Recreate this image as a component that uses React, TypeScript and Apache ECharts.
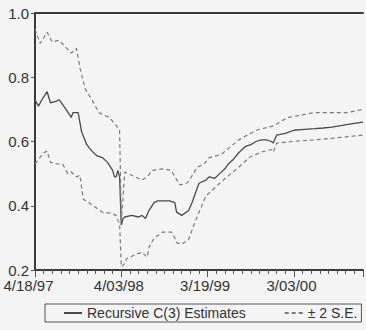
import React, { useEffect, useRef } from "react";
import * as echarts from "echarts";

// week index (0 = 4/18/97), value
const estimateWeeks = [0, 2, 4, 7, 9, 12, 14, 16, 18, 21, 22, 25, 27, 30, 33, 36, 39, 42, 45, 46, 47, 48, 49, 50, 51, 52, 56, 60, 62, 64, 66, 69, 71, 75, 78, 81, 82, 85, 89, 91, 94, 95, 99, 101, 104, 107, 110, 112, 115, 118, 122, 125, 128, 131, 134, 137, 138, 140, 145, 150, 156, 162, 167, 172, 178, 183, 190];
const estimateValues = [0.73, 0.71, 0.73, 0.755, 0.72, 0.725, 0.73, 0.715, 0.70, 0.675, 0.69, 0.69, 0.63, 0.59, 0.57, 0.555, 0.55, 0.535, 0.51, 0.49, 0.49, 0.51, 0.49, 0.34, 0.36, 0.365, 0.37, 0.365, 0.37, 0.36, 0.385, 0.41, 0.415, 0.415, 0.415, 0.41, 0.38, 0.37, 0.385, 0.41, 0.455, 0.47, 0.48, 0.49, 0.485, 0.50, 0.515, 0.53, 0.545, 0.565, 0.585, 0.59, 0.60, 0.605, 0.605, 0.60, 0.595, 0.62, 0.625, 0.635, 0.638, 0.64, 0.642, 0.645, 0.65, 0.655, 0.66];

const upperWeeks = [0, 3, 7, 10, 14, 21, 24, 26, 29, 33, 37, 43, 47, 49, 50, 52, 56, 62, 65, 68, 74, 79, 81, 84, 88, 90, 94, 98, 101, 108, 118, 128, 139, 143, 147, 152, 162, 172, 181, 190];
const upperValues = [0.95, 0.905, 0.94, 0.91, 0.915, 0.875, 0.89, 0.83, 0.765, 0.73, 0.69, 0.675, 0.65, 0.635, 0.35, 0.505, 0.495, 0.48, 0.49, 0.51, 0.515, 0.51, 0.49, 0.465, 0.47, 0.485, 0.52, 0.53, 0.55, 0.56, 0.605, 0.635, 0.65, 0.665, 0.675, 0.68, 0.69, 0.69, 0.69, 0.70];

const lowerWeeks = [0, 5, 7, 9, 13, 16, 19, 21, 24, 26, 28, 31, 35, 39, 44, 47, 48, 49, 50, 52, 53, 59, 62, 65, 66, 69, 74, 79, 81, 82, 85, 89, 92, 95, 99, 101, 108, 118, 124, 131, 137, 138, 140, 149, 162, 172, 181, 190];
const lowerValues = [0.53, 0.565, 0.57, 0.535, 0.53, 0.53, 0.50, 0.505, 0.49, 0.495, 0.42, 0.41, 0.395, 0.38, 0.377, 0.37, 0.355, 0.345, 0.21, 0.22, 0.235, 0.25, 0.255, 0.24, 0.27, 0.30, 0.318, 0.318, 0.30, 0.285, 0.28, 0.295, 0.34, 0.38, 0.43, 0.44, 0.475, 0.52, 0.55, 0.567, 0.575, 0.567, 0.595, 0.60, 0.605, 0.61, 0.615, 0.62];

const xTickLabels = ["4/18/97", "4/03/98", "3/19/99", "3/03/00"];
const yTicks = [0.2, 0.4, 0.6, 0.8, 1.0];

const seriesNames = ["Recursive C(3) Estimates", "\u00b1 2 S.E."];

const zip = (a: number[], b: number[]) => a.map((w, i) => [w, b[i]]);

export default function App() {
  const ref = useRef<HTMLDivElement>(null);
  useEffect(() => {
    if (!ref.current) return;
    const chart = echarts.init(ref.current, null, { renderer: "svg" });
    const font = "Liberation Sans, Arial, sans-serif";
    const axisColor = "#3c3c3c";
    chart.setOption({
      animation: false,
      backgroundColor: "#f4f4f4",
      grid: { left: 35, right: 0, top: 13, bottom: 60, containLabel: false },
      xAxis: [
        {
          type: "value",
          position: "bottom",
          min: 0,
          max: 190,
          interval: 5,
          axisLine: { show: true, onZero: false, lineStyle: { color: axisColor, width: 2 } },
          axisTick: { show: true, inside: false, length: 4, lineStyle: { color: "#555", width: 1 } },
          axisLabel: {
            show: true,
            margin: 8,
            fontFamily: font,
            fontSize: 15,
            color: "#333",
            formatter: (v: number) => {
              if (v % 50 !== 0 || v / 50 >= xTickLabels.length) return "";
              const t = xTickLabels[v / 50];
              return v === 0 ? "{first|" + t + "}" : "{rest|" + t + "}";
            },
            rich: {
              first: { fontFamily: font, fontSize: 15, color: "#333", padding: [0, 13, 0, 0] },
              rest: { fontFamily: font, fontSize: 15, color: "#333", padding: [0, 5, 0, 0] },
            },
          },
          splitLine: { show: false },
        },
        {
          type: "value",
          position: "bottom",
          min: 0,
          max: 190,
          interval: 50,
          axisLine: { show: false, onZero: false },
          axisTick: { show: true, inside: false, length: 7, lineStyle: { color: "#555", width: 1 } },
          axisLabel: { show: false },
          splitLine: { show: false },
        },
        {
          type: "value",
          position: "top",
          min: 0,
          max: 190,
          axisLine: { show: true, onZero: false, lineStyle: { color: axisColor, width: 2 } },
          axisTick: { show: false },
          axisLabel: { show: false },
          splitLine: { show: false },
        },
      ],
      yAxis: {
        type: "value",
        min: yTicks[0],
        max: yTicks[yTicks.length - 1],
        interval: 0.2,
        axisLine: { show: true, onZero: false, lineStyle: { color: axisColor, width: 2 } },
        axisTick: { show: true, inside: false, length: 4, lineStyle: { color: "#555" } },
        axisLabel: {
          fontFamily: font,
          fontSize: 15,
          color: "#333",
          margin: 6,
          formatter: (v: number) => v.toFixed(1),
        },
        splitLine: { show: false },
      },
      legend: {
        show: true,
        left: 45,
        top: 304,
        orient: "horizontal",
        data: seriesNames,
        borderColor: "#555",
        borderWidth: 1,
        padding: [2, 4, 2, 18],
        itemWidth: 18,
        itemHeight: 10,
        itemGap: 38,
        itemStyle: { color: "transparent", borderColor: "transparent", borderWidth: 0, opacity: 0 },
        textStyle: { fontFamily: font, fontSize: 14, color: "#333" },
      },
      series: [
        {
          name: seriesNames[0],
          type: "line",
          xAxisIndex: 0,
          data: zip(estimateWeeks, estimateValues),
          showSymbol: false,
          symbol: "none",
          lineStyle: { color: "#4a4a4a", width: 1.3 },
          itemStyle: { color: "#4a4a4a" },
        },
        {
          name: seriesNames[1],
          type: "line",
          xAxisIndex: 0,
          data: zip(upperWeeks, upperValues),
          showSymbol: false,
          symbol: "none",
          lineStyle: { color: "#7a7a7a", width: 1.2, type: [4, 3] },
          itemStyle: { color: "#7a7a7a" },
        },
        {
          name: seriesNames[1],
          type: "line",
          xAxisIndex: 0,
          data: zip(lowerWeeks, lowerValues),
          showSymbol: false,
          symbol: "none",
          lineStyle: { color: "#7a7a7a", width: 1.2, type: [4, 3] },
          itemStyle: { color: "#7a7a7a" },
        },
      ],
    });
    return () => chart.dispose();
  }, []);
  return (
    <div
      ref={ref}
      style={{ position: "fixed", left: 0, top: 0, width: 366, height: 330 }}
    />
  );
}
